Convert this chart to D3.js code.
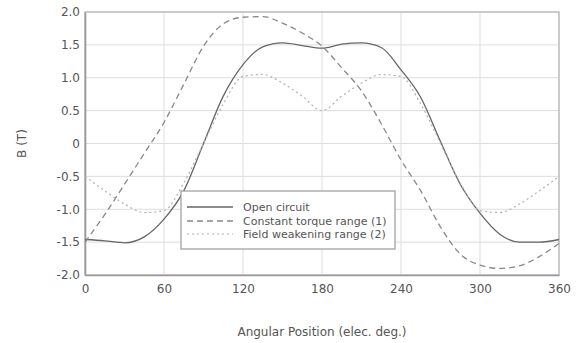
<!DOCTYPE html>
<html>
<head>
<meta charset="utf-8">
<script src="https://cdn.jsdelivr.net/npm/d3@7"></script>
<style>
  html, body { margin: 0; padding: 0; background: #fff; }
  svg { display: block; font-family: "DejaVu Sans", Verdana, sans-serif; }
</style>
</head>
<body>
<svg id="chart" width="581" height="343"></svg>
<script>
// Angular positions (electrical degrees)
const angles = [0, 15, 30, 45, 60, 75, 90, 105, 120, 135, 150, 165, 180,
                195, 210, 225, 240, 255, 270, 285, 300, 315, 330, 345, 360];

// Flux density B (T) for each operating condition
const openCircuit = [-1.46, -1.48, -1.51, -1.42, -1.15, -0.72, 0.0, 0.72, 1.2, 1.47, 1.53, 1.49, 1.45,
                     1.51, 1.53, 1.46, 1.12, 0.7, 0.03, -0.62, -1.06, -1.38, -1.5, -1.5, -1.46];
const constantTorque = [-1.5, -1.08, -0.62, -0.15, 0.32, 0.9, 1.48, 1.82, 1.92, 1.93, 1.83, 1.68, 1.48,
                        1.15, 0.8, 0.3, -0.25, -0.72, -1.27, -1.68, -1.85, -1.9, -1.86, -1.72, -1.52];
const fieldWeakening = [-0.5, -0.72, -0.92, -1.05, -1.02, -0.6, 0.0, 0.6, 1.02, 1.05, 0.92, 0.72, 0.5,
                        0.72, 0.92, 1.05, 1.02, 0.6, 0.0, -0.6, -1.02, -1.05, -0.92, -0.72, -0.5];

const seriesNames = ["Open circuit", "Constant torque range (1)", "Field weakening range (2)"];
const xTicks = [0, 60, 120, 180, 240, 300, 360];
const yTicks = [-2.0, -1.5, -1.0, -0.5, 0, 0.5, 1.0, 1.5, 2.0];
const yTickLabels = ["-2.0", "-1.5", "-1.0", "-0.5", "0", "0.5", "1.0", "1.5", "2.0"];

const series = [
  { name: seriesNames[0], values: openCircuit,    color: "#666666", width: 1.3, dash: null },
  { name: seriesNames[1], values: constantTorque, color: "#888888", width: 1.3, dash: "6,4" },
  { name: seriesNames[2], values: fieldWeakening, color: "#b0b0b0", width: 1.2, dash: "2,3" }
];

const svg = d3.select("#chart");
const plot = { left: 85, right: 559, top: 12, bottom: 275 };

const x = d3.scaleLinear().domain([0, 360]).range([plot.left, plot.right]);
const y = d3.scaleLinear().domain([-2, 2]).range([plot.bottom, plot.top]);

// grid
const grid = svg.append("g");
grid.selectAll("line.v").data(xTicks).join("line")
  .attr("x1", d => x(d)).attr("x2", d => x(d))
  .attr("y1", plot.top).attr("y2", plot.bottom)
  .attr("stroke", "#dddddd").attr("stroke-width", 1);
grid.selectAll("line.h").data(yTicks).join("line")
  .attr("x1", plot.left).attr("x2", plot.right)
  .attr("y1", d => y(d)).attr("y2", d => y(d))
  .attr("stroke", "#dddddd").attr("stroke-width", 1);

// frame
svg.append("rect")
  .attr("x", plot.left).attr("y", plot.top)
  .attr("width", plot.right - plot.left).attr("height", plot.bottom - plot.top)
  .attr("fill", "none").attr("stroke", "#b4b4b4").attr("stroke-width", 1.2);

// axes
const xAxis = d3.axisBottom(x).tickValues(xTicks).tickSize(0).tickPadding(9).tickFormat(d3.format("d"));
const yAxis = d3.axisLeft(y).tickValues(yTicks).tickSize(0).tickPadding(5)
  .tickFormat((d, i) => yTickLabels[i]);

const gx = svg.append("g").attr("transform", `translate(0,${plot.bottom})`).call(xAxis);
const gy = svg.append("g").attr("transform", `translate(${plot.left},0)`).call(yAxis);
[gx, gy].forEach(g => {
  g.select(".domain").attr("stroke", "#9a9a9a").attr("stroke-width", 1.6);
  g.selectAll("text").attr("fill", "#555")
    .style("font-family", "'DejaVu Sans', Verdana, sans-serif").style("font-size", "12px");
});

// curves
const line = d3.line()
  .x((d, i) => x(angles[i]))
  .y(d => y(d))
  .curve(d3.curveMonotoneX);

svg.append("g").selectAll("path").data(series).join("path")
  .attr("d", d => line(d.values))
  .attr("fill", "none")
  .attr("stroke", d => d.color)
  .attr("stroke-width", d => d.width)
  .attr("stroke-dasharray", d => d.dash);

// legend
const legend = svg.append("g");
legend.append("rect")
  .attr("x", 181).attr("y", 191).attr("width", 214).attr("height", 58)
  .attr("fill", "#fff").attr("stroke", "#9a9a9a").attr("stroke-width", 1.2);
const rows = legend.selectAll("g.row").data(series).join("g")
  .attr("transform", (d, i) => `translate(0,${[207, 221, 234][i]})`);
rows.append("line")
  .attr("x1", 187).attr("x2", 233).attr("y1", 0).attr("y2", 0)
  .attr("stroke", d => d.color).attr("stroke-width", d => d.width)
  .attr("stroke-dasharray", d => d.dash);
rows.append("text")
  .attr("x", 243).attr("y", 0).attr("dy", "0.35em")
  .attr("fill", "#555").style("font-size", "11px")
  .text(d => d.name);

// axis titles
svg.append("text")
  .attr("transform", `translate(22,${(plot.top + plot.bottom) / 2}) rotate(-90)`)
  .attr("text-anchor", "middle").attr("dy", "0.35em")
  .attr("fill", "#555").style("font-size", "12px")
  .text("B (T)");
svg.append("text")
  .attr("x", (plot.left + plot.right) / 2).attr("y", 336)
  .attr("text-anchor", "middle").attr("fill", "#555").style("font-size", "12px")
  .text("Angular Position (elec. deg.)");
</script>
</body>
</html>
